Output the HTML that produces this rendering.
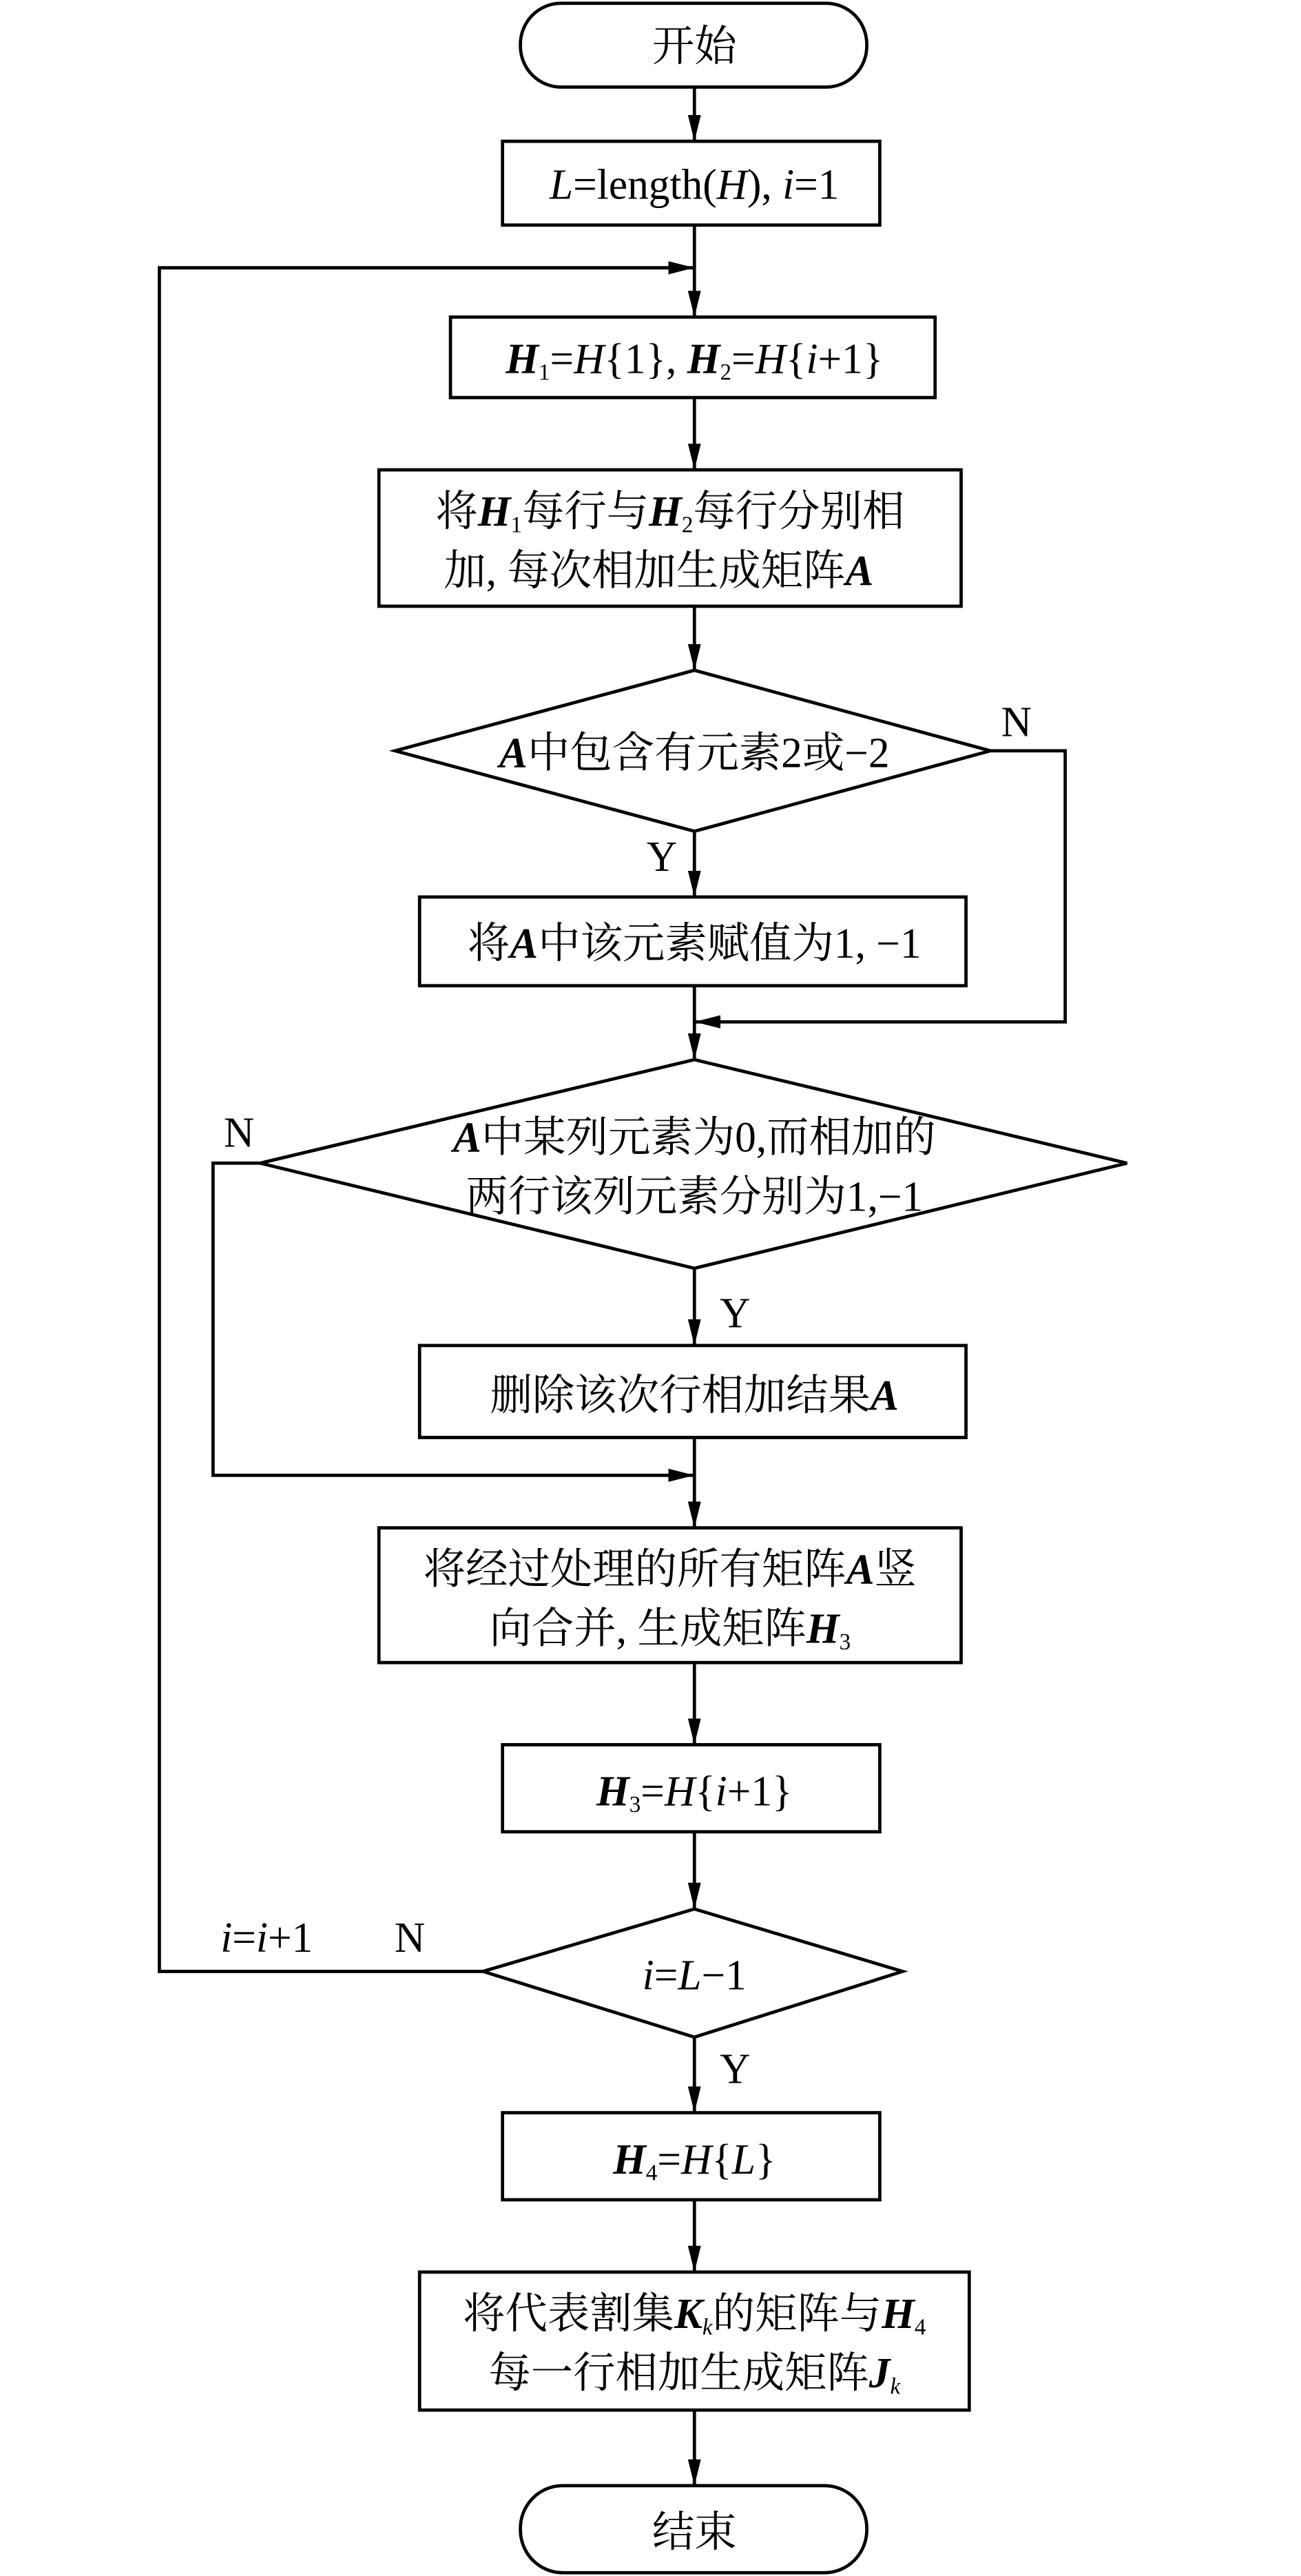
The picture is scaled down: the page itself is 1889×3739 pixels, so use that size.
<!DOCTYPE html>
<html><head><meta charset="utf-8"><style>
html,body{margin:0;padding:0;background:#fff;}
svg{display:block;}
text{font-family:"Liberation Serif","Noto Serif CJK SC",serif;font-size:26px;fill:#000;}
.i{font-style:italic;}
.b{font-weight:bold;font-style:italic;}
</style></head><body>
<svg width="1889" height="3739" viewBox="0 0 800 1568" preserveAspectRatio="none" xmlns="http://www.w3.org/2000/svg">
<defs>
<marker id="ar" viewBox="0 0 16 10" refX="16" refY="5" markerWidth="16" markerHeight="10" markerUnits="userSpaceOnUse" orient="auto">
<path d="M0,1 L16,5 L0,9 Z" fill="#000"/></marker>
</defs>
<g fill="none" stroke="#000" stroke-width="2">
<rect x="320" y="2" width="213" height="51" rx="25" ry="25"/>
<rect x="309" y="86" width="232" height="51"/>
<rect x="277" y="193" width="298" height="49"/>
<rect x="233" y="286" width="358" height="83"/>
<polygon points="427,408 609,457 427,506 243,457"/>
<rect x="258" y="546" width="336" height="54"/>
<polygon points="427,645 693,708 427,772 160,708"/>
<rect x="258" y="819" width="336" height="56"/>
<rect x="233" y="930" width="358" height="82"/>
<rect x="309" y="1062" width="232" height="53"/>
<polygon points="427,1162 555,1200 427,1240 297,1200"/>
<rect x="309" y="1286" width="232" height="53"/>
<rect x="258" y="1383" width="338" height="84"/>
<rect x="320" y="1513" width="213" height="53" rx="26" ry="26"/>
<line x1="427" y1="53" x2="427" y2="86" marker-end="url(#ar)"/>
<line x1="427" y1="137" x2="427" y2="193" marker-end="url(#ar)"/>
<line x1="427" y1="242" x2="427" y2="286" marker-end="url(#ar)"/>
<line x1="427" y1="369" x2="427" y2="408" marker-end="url(#ar)"/>
<line x1="427" y1="506" x2="427" y2="546" marker-end="url(#ar)"/>
<line x1="427" y1="600" x2="427" y2="645" marker-end="url(#ar)"/>
<line x1="427" y1="772" x2="427" y2="819" marker-end="url(#ar)"/>
<line x1="427" y1="875" x2="427" y2="930" marker-end="url(#ar)"/>
<line x1="427" y1="1012" x2="427" y2="1062" marker-end="url(#ar)"/>
<line x1="427" y1="1115" x2="427" y2="1162" marker-end="url(#ar)"/>
<line x1="427" y1="1240" x2="427" y2="1286" marker-end="url(#ar)"/>
<line x1="427" y1="1339" x2="427" y2="1383" marker-end="url(#ar)"/>
<line x1="427" y1="1467" x2="427" y2="1513" marker-end="url(#ar)"/>
<polyline points="609,457 655,457 655,622 427,622" marker-end="url(#ar)"/>
<polyline points="160,708 131,708 131,898 427,898" marker-end="url(#ar)"/>
<polyline points="297,1200 98,1200 98,163 427,163" marker-end="url(#ar)"/>
</g>
<g text-anchor="middle">
<text x="427" y="37">开始</text>
<text x="427" y="121"><tspan class="i">L</tspan>=length(<tspan class="i">H</tspan>), <tspan class="i">i</tspan>=1</text>
<text x="427" y="227"><tspan class="b">H</tspan><tspan font-size="14" dy="4">1</tspan><tspan dy="-4">=</tspan><tspan class="i">H</tspan>{1}, <tspan class="b">H</tspan><tspan font-size="14" dy="4">2</tspan><tspan dy="-4">=</tspan><tspan class="i">H</tspan>{<tspan class="i">i</tspan>+1}</text>
<text x="412" y="320">将<tspan class="b">H</tspan><tspan font-size="14" dy="4">1</tspan><tspan dy="-4">每行与</tspan><tspan class="b">H</tspan><tspan font-size="14" dy="4">2</tspan><tspan dy="-4">每行分别相</tspan></text>
<text x="405" y="356">加, 每次相加生成矩阵<tspan class="b">A</tspan></text>
<text x="427" y="467"><tspan class="b">A</tspan>中包含有元素2或−2</text>
<text x="427" y="583">将<tspan class="b">A</tspan>中该元素赋值为1, −1</text>
<text x="427" y="701"><tspan class="b">A</tspan>中某列元素为0,而相加的</text>
<text x="427" y="737">两行该列元素分别为1,−1</text>
<text x="427" y="858">删除该次行相加结果<tspan class="b">A</tspan></text>
<text x="412" y="964">将经过处理的所有矩阵<tspan class="b">A</tspan>竖</text>
<text x="412" y="1000">向合并, 生成矩阵<tspan class="b">H</tspan><tspan font-size="14" dy="4">3</tspan></text>
<text x="427" y="1099"><tspan class="b">H</tspan><tspan font-size="14" dy="4">3</tspan><tspan dy="-4">=</tspan><tspan class="i">H</tspan>{<tspan class="i">i</tspan>+1}</text>
<text x="427" y="1211"><tspan class="i">i</tspan>=<tspan class="i">L</tspan>−1</text>
<text x="427" y="1323"><tspan class="b">H</tspan><tspan font-size="14" dy="4">4</tspan><tspan dy="-4">=</tspan><tspan class="i">H</tspan>{<tspan class="i">L</tspan>}</text>
<text x="427" y="1417">将代表割集<tspan class="b">K</tspan><tspan font-size="14" dy="4" class="i">k</tspan><tspan dy="-4">的矩阵与</tspan><tspan class="b">H</tspan><tspan font-size="14" dy="4">4</tspan></text>
<text x="427" y="1453">每一行相加生成矩阵<tspan class="b">J</tspan><tspan font-size="14" dy="4" class="i">k</tspan></text>
<text x="427" y="1550">结束</text>
<text x="625" y="448">N</text>
<text x="407" y="530">Y</text>
<text x="147" y="698">N</text>
<text x="452" y="808">Y</text>
<text x="164" y="1188"><tspan class="i">i</tspan>=<tspan class="i">i</tspan>+1</text>
<text x="252" y="1188">N</text>
<text x="452" y="1268">Y</text>
</g>
</svg>
</body></html>
